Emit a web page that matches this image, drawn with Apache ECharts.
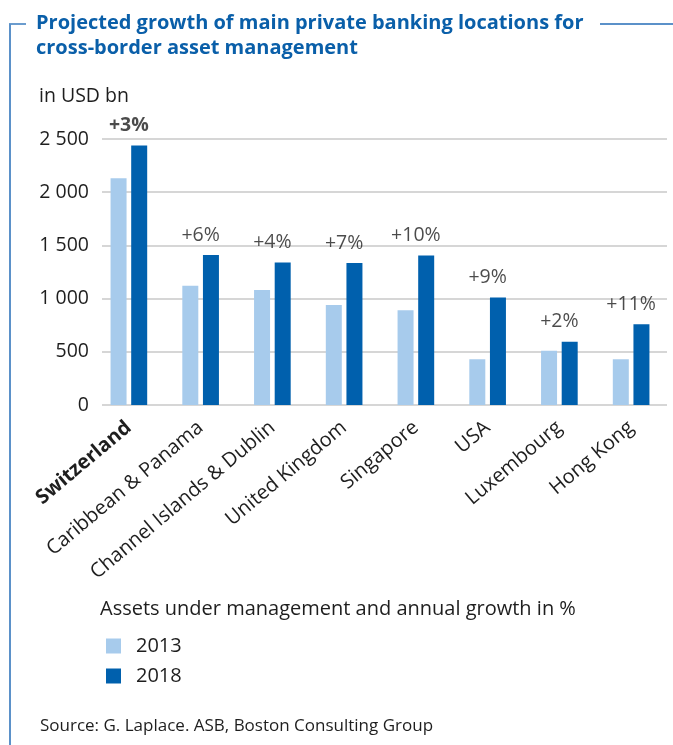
<!DOCTYPE html>
<html>
<head>
<meta charset="utf-8">
<script src="https://cdn.jsdelivr.net/npm/echarts@6/dist/echarts.min.js"></script>
<style>
  html, body { margin: 0; padding: 0; background: #ffffff; }
  #chart { width: 673px; height: 745px; }
</style>
</head>
<body>
<div id="chart"></div>
<script>
// Private banking locations and their cross-border assets (USD bn)
const locations = ['Switzerland', 'Caribbean & Panama', 'Channel Islands & Dublin', 'United Kingdom', 'Singapore', 'USA', 'Luxembourg', 'Hong Kong'];
const aum2013 = [2130, 1120, 1080, 940, 890, 430, 510, 430];
const aum2018 = [2440, 1410, 1340, 1335, 1405, 1010, 595, 760];
const growth = ['+3%', '+6%', '+4%', '+7%', '+10%', '+9%', '+2%', '+11%'];
const yTicks = [0, 500, 1000, 1500, 2000, 2500];

const FONT = '"Open Sans", "DejaVu Sans", sans-serif';
const TEXT = '#1e1e1e';
const LIGHT = '#a7cbec';
const DARK = '#0060ad';
const FRAME = '#5b91c9';

function fmtThousands(v) {
  return String(v).replace(/\B(?=(\d{3})+(?!\d))/g, ' ');
}

const chart = echarts.init(document.getElementById('chart'), null, { renderer: 'canvas' });

const option = {
  backgroundColor: '#ffffff',
  animation: false,
  textStyle: { fontFamily: FONT, color: TEXT },
  grid: [
    // grid for the value scale and horizontal gridlines
    { left: 102, right: 6, top: 139, height: 266 },
    // grid for the bars
    { left: 93, right: 6, top: 139, height: 266 }
  ],
  xAxis: [
    { type: 'value', gridIndex: 0, show: false, min: 0, max: 1 },
    {
      type: 'category', gridIndex: 1, data: locations,
      axisLine: { show: false }, axisTick: { show: false },
      axisLabel: {
        rotate: 40, margin: 20, interval: 0,
        fontFamily: FONT, fontSize: 20, color: TEXT,
        formatter: (v, i) => i === 0 ? '{b|' + v + '}' : v,
        rich: { b: { fontWeight: 'bold', fontFamily: FONT, fontSize: 20, color: TEXT } }
      }
    }
  ],
  yAxis: [
    {
      type: 'value', gridIndex: 0, min: yTicks[0], max: yTicks[yTicks.length - 1], interval: 500,
      axisLine: { show: false }, axisTick: { show: false },
      axisLabel: { margin: 13, fontFamily: FONT, fontSize: 19.5, color: TEXT, formatter: v => fmtThousands(v) },
      splitLine: { show: true, lineStyle: { color: '#c8c8c8', width: 1.6 } }
    },
    {
      type: 'value', gridIndex: 1, min: yTicks[0], max: yTicks[yTicks.length - 1], interval: 500,
      show: false, splitLine: { show: false }
    }
  ],
  legend: {
    data: ['2013', '2018'],
    orient: 'vertical',
    left: 101, top: 631,
    itemWidth: 15, itemHeight: 15, itemGap: 10,
    icon: 'rect',
    textStyle: { fontFamily: FONT, fontSize: 20, color: TEXT, padding: [0, 0, 0, 10] }
  },
  series: [
    {
      name: '2013', type: 'bar', xAxisIndex: 1, yAxisIndex: 1,
      data: aum2013, barWidth: 16, barGap: '29%',
      itemStyle: { color: LIGHT }
    },
    {
      name: '2018', type: 'bar', xAxisIndex: 1, yAxisIndex: 1,
      data: aum2018, barWidth: 16,
      itemStyle: { color: DARK }
    },
    {
      // growth labels centred above each pair of bars
      name: 'growth', type: 'scatter', xAxisIndex: 1, yAxisIndex: 1,
      symbolSize: 0, silent: true,
      data: aum2018.map((v, i) => ({
        value: Math.max(v, aum2013[i]),
        label: { fontWeight: i === 0 ? 'bold' : 'normal' }
      })),
      label: {
        show: true, position: 'top', distance: 10,
        fontFamily: FONT, fontSize: 19.5, color: TEXT,
        formatter: p => growth[p.dataIndex]
      }
    }
  ],
  graphic: [
    // frame: left rule and top rules beside the heading
    { type: 'line', shape: { x1: 10, y1: 24, x2: 10, y2: 745 }, style: { stroke: FRAME, lineWidth: 2 } },
    { type: 'line', shape: { x1: 9, y1: 24, x2: 26, y2: 24 }, style: { stroke: FRAME, lineWidth: 1.8 } },
    { type: 'line', shape: { x1: 600, y1: 24, x2: 673, y2: 24 }, style: { stroke: FRAME, lineWidth: 1.8 } },
    {
      type: 'text', left: 36, top: 11,
      style: {
        text: 'Projected growth of main private banking locations for\ncross-border asset management',
        font: 'bold 20px ' + FONT, fill: '#0a5fa9', lineHeight: 25
      }
    },
    { type: 'text', left: 39, top: 86, style: { text: 'in USD bn', font: '19.5px ' + FONT, fill: TEXT } },
    { type: 'text', left: 100, top: 599, style: { text: 'Assets under management and annual growth in %', font: '20px ' + FONT, fill: TEXT } },
    { type: 'text', left: 40, top: 718, style: { text: 'Source: G. Laplace. ASB, Boston Consulting Group', font: '17px ' + FONT, fill: TEXT } }
  ]
};

chart.setOption(option);
</script>
</body>
</html>
